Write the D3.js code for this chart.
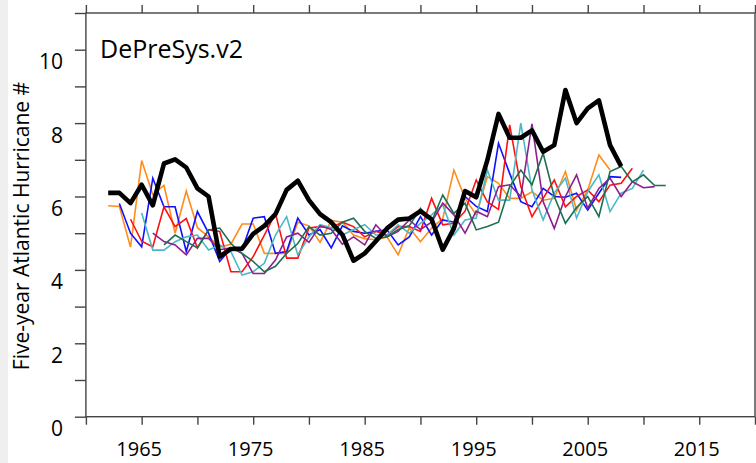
<!DOCTYPE html>
<html>
<head>
<meta charset="utf-8">
<title>DePreSys.v2</title>
<script src="https://cdn.jsdelivr.net/npm/d3@7"></script>
<style>
  body { margin: 0; background: #fff; }
  svg { display: block; font-family: "Open Sans", sans-serif; }
</style>
</head>
<body>
<svg width="756" height="463"></svg>
<script>
// observed five-year hurricane counts (thick black)
const obsStart = 1962;
const observed = [6.1, 6.1, 5.82, 6.32, 5.76, 6.9, 7.01, 6.79, 6.22, 6.0,
  4.36, 4.57, 4.58, 4.98, 5.2, 5.52, 6.18, 6.43, 5.9, 5.52,
  5.3, 4.96, 4.25, 4.45, 4.78, 5.13, 5.37, 5.4, 5.6, 5.38,
  4.55, 5.13, 6.15, 5.98, 6.99, 8.25, 7.6, 7.6, 7.8, 7.22,
  7.4, 8.9, 8.0, 8.4, 8.62, 7.4, 6.82];

// hindcast series, each one starting a year later
const orange = [5.75, 5.73, 4.62, 6.98, 6.05, 6.3, 5.0, 6.15, 5.15, 4.9,
  4.62, 4.7, 5.25, 5.25, 4.45, 4.45, 4.45, 5.3, 5.2, 4.75,
  5.35, 5.3, 4.95, 4.85, 4.82, 4.9, 4.41, 5.15, 4.77, 5.14,
  5.4, 6.72, 5.95, 5.5, 6.54, 6.36, 5.95, 5.95, 6.13, 5.9,
  5.95, 6.68, 5.63, 6.18, 7.13, 6.72];
const blue = [5.81, 5.0, 4.63, 6.5, 5.72, 5.72, 4.5, 5.59, 5.0, 4.23,
  4.59, 4.55, 5.41, 5.45, 4.45, 4.5, 5.41, 4.95, 5.1, 4.6,
  5.2, 5.05, 5.0, 5.05, 5.09, 4.68, 4.9, 5.45, 4.95, 5.36,
  5.3, 6.0, 5.73, 5.59, 7.45, 6.63, 5.86, 5.72, 6.22, 6.0,
  5.98, 6.09, 5.63, 6.09, 6.54, 6.52];
const red = [5.38, 4.78, 4.63, 5.72, 5.18, 5.4, 4.6, 5.09, 5.05, 3.95,
  3.95, 4.36, 4.95, 5.54, 4.32, 4.32, 5.14, 5.18, 5.15, 5.3,
  5.18, 4.9, 5.05, 4.95, 5.18, 5.18, 5.05, 5.95, 5.23, 5.27,
  5.6, 6.45, 5.85, 5.65, 7.95, 6.27, 5.45, 5.95, 6.45, 5.72,
  6.0, 6.18, 5.86, 6.31, 6.36, 6.77];
const cyan = [5.55, 4.54, 4.54, 4.77, 4.9, 4.95, 4.54, 4.68, 4.5, 3.86,
  3.95, 4.18, 4.95, 5.45, 4.41, 4.9, 5.23, 5.15, 4.95, 5.1,
  5.23, 4.95, 4.95, 5.23, 5.0, 5.27, 5.5, 5.77, 4.95, 5.36,
  5.41, 6.72, 5.9, 5.9, 8.0, 6.18, 5.36, 6.1, 6.5, 5.41,
  6.13, 6.59, 5.59, 6.09, 6.22, 6.72];
const purple = [5.0, 4.77, 4.68, 4.41, 4.86, 4.86, 4.55, 4.6, 4.45, 3.9,
  3.9, 4.27, 4.9, 5.0, 4.75, 5.2, 5.1, 4.7, 4.9, 4.68,
  5.23, 4.9, 5.05, 5.36, 5.1, 5.3, 5.82, 5.5, 5.0, 5.6,
  5.45, 6.27, 6.32, 6.0, 7.98, 5.86, 5.13, 6.0, 6.59, 5.68,
  6.22, 6.5, 6.0, 6.4, 6.24, 6.27];
const green = [4.68, 4.95, 4.77, 4.6, 5.09, 5.14, 4.72, 4.45, 4.23, 3.95,
  4.1, 4.45, 4.72, 5.18, 4.95, 5.0, 5.3, 5.41, 5.05, 4.86,
  4.9, 5.1, 5.2, 5.68, 5.32, 6.04, 5.54, 5.82, 5.09, 5.18,
  5.3, 6.27, 6.72, 6.32, 7.18, 6.0, 5.27, 5.7, 6.0, 5.45,
  6.68, 6.82, 6.4, 6.59, 6.3, 6.3];

const members = [
  { start: 1962, vals: orange, color: "#ff8c1a" },
  { start: 1963, vals: blue,   color: "#1010ff" },
  { start: 1964, vals: red,    color: "#ff1010" },
  { start: 1965, vals: cyan,   color: "#4cb8c6" },
  { start: 1966, vals: purple, color: "#8e1e8e" },
  { start: 1967, vals: green,  color: "#1d6e52" }
];

const xTicks = d3.range(1960, 2021, 5);
const yTicks = d3.range(0, 12, 1);

const svg = d3.select("svg");
const W = +svg.attr("width"), H = +svg.attr("height");

svg.append("rect").attr("width", W).attr("height", H).attr("fill", "#fff");
svg.append("rect").attr("x", 0).attr("y", 0).attr("width", 8).attr("height", H).attr("fill", "#efefef");

const x = d3.scaleLinear().domain([1960, 2020]).range([85.9, 755]);
const y = d3.scaleLinear().domain([0, 11]).range([416.7, 13]);

const line = d3.line()
  .x(d => x(d[0]))
  .y(d => y(d[1]));

// hindcast spaghetti
svg.append("g").selectAll("path")
  .data(members)
  .join("path")
  .attr("d", m => line(m.vals.map((v, i) => [m.start + i, v])))
  .attr("fill", "none")
  .attr("stroke", m => m.color)
  .attr("stroke-width", 1.6);

// observations
svg.append("path")
  .attr("d", line(observed.map((v, i) => [obsStart + i, v])))
  .attr("fill", "none")
  .attr("stroke", "#000")
  .attr("stroke-width", 4.6)
  .attr("stroke-linejoin", "round");

// frame
svg.append("rect")
  .attr("x", x(1960)).attr("y", y(11))
  .attr("width", x(2020) - x(1960)).attr("height", y(0) - y(11))
  .attr("fill", "none").attr("stroke", "#444").attr("stroke-width", 1.4);

const axisColor = "#444";

const gx = svg.append("g")
  .attr("transform", `translate(0,${y(0)})`)
  .call(d3.axisBottom(x).tickValues(xTicks).tickSize(8).tickPadding(17)
    .tickFormat(d => (d - 1965) % 10 === 0 ? d : ""));
const gt = svg.append("g")
  .attr("transform", `translate(0,${y(11)})`)
  .call(d3.axisTop(x).tickValues(xTicks).tickSize(8).tickFormat(""));
const gy = svg.append("g")
  .attr("transform", `translate(${x(1960)},0)`)
  .call(d3.axisLeft(y).tickValues(yTicks).tickSize(11).tickPadding(12)
    .tickFormat(d => d % 2 === 0 ? d : ""));

[gx, gt, gy].forEach(g => {
  g.select(".domain").remove();
  g.selectAll(".tick line").attr("stroke", axisColor).attr("stroke-width", 1.4);
  g.selectAll("text").attr("fill", "#000").style("font-size", "21px")
    .style("font-family", "'Open Sans', sans-serif");
});
gx.selectAll("text").attr("dx", "-3").style("font-size", "20px");
gy.selectAll("text").attr("dy", "19");

svg.append("text")
  .attr("transform", `translate(29,226) rotate(-90)`)
  .attr("text-anchor", "middle")
  .style("font-size", "21px")
  .text("Five-year Atlantic Hurricane #");

svg.append("text")
  .attr("x", 100).attr("y", 58)
  .style("font-size", "25px")
  .text("DePreSys.v2");
</script>
</body>
</html>
